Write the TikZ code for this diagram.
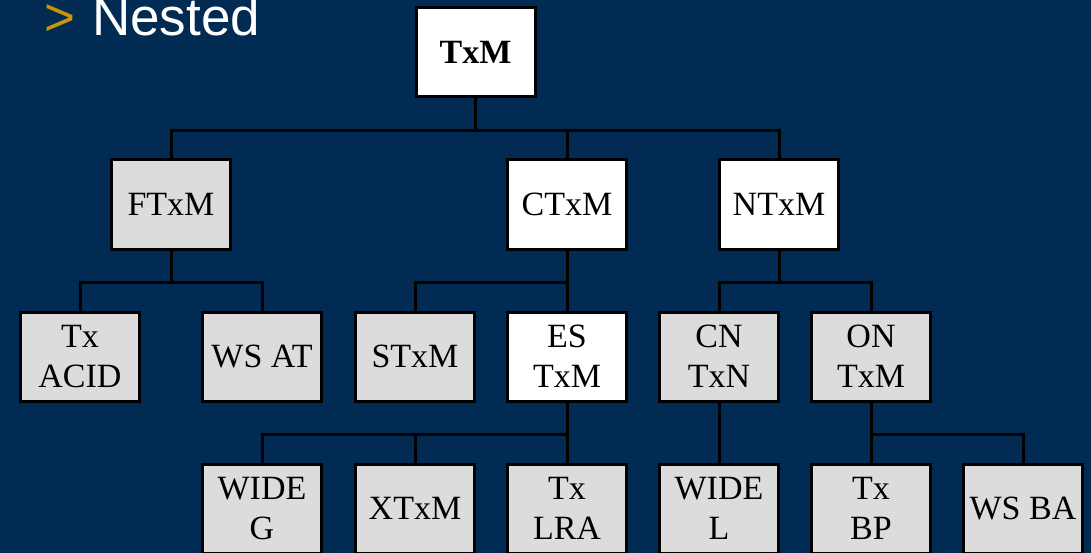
\documentclass[tikz,border=0pt]{standalone}
\usepackage{fontspec}
\setmainfont{Liberation Serif}
\newfontfamily\titlefont{Liberation Sans}
\definecolor{bgblue}{RGB}{1,43,82}
\definecolor{gold}{RGB}{200,150,10}
\definecolor{boxgray}{RGB}{220,220,220}
\begin{document}
\begin{tikzpicture}[x=1pt,y=-1pt,
  box/.style={draw=black, line width=3pt, minimum width=119pt, minimum height=89pt,
    inner sep=0pt, align=center, font=\fontsize{34}{40}\selectfont, text=black},
  gbox/.style={box, fill=boxgray},
  wbox/.style={box, fill=white},
  link/.style={draw=black, line width=3pt, line join=miter}]
\fill[bgblue] (0,0) rectangle (1091,553);
\useasboundingbox (0,0) rectangle (1091,553);
\clip (0,0) rectangle (1091,553);
% title
\node[anchor=base west, inner sep=0pt, text=gold, font=\titlefont\fontsize{53}{53}\selectfont] (gt) at (44,36) {>};
\node[anchor=base west, inner sep=0pt, text=white, font=\titlefont\fontsize{53}{53}\selectfont] (title) at (92,36) {Nested};
% row 1
\node[wbox, font=\fontsize{34}{40}\selectfont\bfseries] (txm) at (475.5,52.5) {TxM};
% row 2
\node[gbox] (ftxm) at (171,204.5) {FTxM};
\node[wbox] (ctxm) at (567,204.5) {CTxM};
\node[wbox] (ntxm) at (779,204.5) {NTxM};
% row 3
\node[gbox] (acid) at (80,356.5) {Tx\\ACID};
\node[gbox] (wsat) at (262,356.5) {WS AT};
\node[gbox] (stxm) at (415,356.5) {STxM};
\node[wbox] (estxm) at (567,356.5) {ES\\TxM};
\node[gbox] (cntxn) at (719,356.5) {CN\\TxN};
\node[gbox] (ontxm) at (871,356.5) {ON\\TxM};
% row 4
\node[gbox] (wideg) at (262,508.5) {WIDE\\G};
\node[gbox] (xtxm) at (415,508.5) {XTxM};
\node[gbox] (lra) at (567,508.5) {Tx\\LRA};
\node[gbox] (widel) at (719,508.5) {WIDE\\L};
\node[gbox] (bp) at (871,508.5) {Tx\\BP};
\node[gbox] (wsba) at (1023,508.5) {WS BA};
% connectors
\foreach \p/\c in {txm/ftxm, txm/ctxm, txm/ntxm,
                   ftxm/acid, ftxm/wsat,
                   ctxm/stxm, ctxm/estxm,
                   ntxm/cntxn, ntxm/ontxm,
                   estxm/wideg, estxm/xtxm, estxm/lra,
                   cntxn/widel,
                   ontxm/bp, ontxm/wsba}
  \draw[link] (\p.south) -- ++(0,32) -| (\c.north);
\end{tikzpicture}
\end{document}
